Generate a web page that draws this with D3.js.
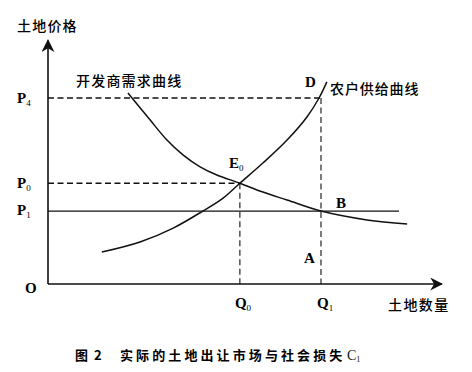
<!DOCTYPE html>
<html><head><meta charset="utf-8">
<script src="https://cdn.jsdelivr.net/npm/d3@7"></script>
<style>
html,body{margin:0;padding:0;background:#fff;}
svg{display:block;}
.cn{font-family:"Noto Sans CJK SC","Noto Sans CJK JP",sans-serif;fill:#000;}
.lt{font-family:"Liberation Serif","DejaVu Serif",serif;font-weight:bold;fill:#000;}
</style></head>
<body>
<svg id="c" width="472" height="372"></svg>
<script>
// ---- data ----
const demandX = [2.05, 2.62, 3.05, 3.46, 3.90, 4.33, 4.92, 5.51, 6.13, 7.0, 8.18, 9.21];
const demandY = [7.96, 6.83, 6.0, 5.38, 4.88, 4.54, 4.2, 3.83, 3.5, 3.04, 2.67, 2.5];
const supplyX = [1.38, 2.36, 3.21, 3.97, 4.49, 4.92, 5.51, 6.13, 6.64, 6.95, 7.15];
const supplyY = [1.33, 1.75, 2.33, 3.04, 3.58, 4.2, 5.04, 6.0, 6.96, 7.75, 8.42];
const priceLevels = {P4: 7.75, P0: 4.2, P1: 3.04};
const quantityLevels = {Q0: 4.92, Q1: 7.0};
const p1LineEnd = 9.0;
const axisMaxX = 10.1, axisMaxY = 10.15;

const svg = d3.select("#c");
const x = d3.scaleLinear().domain([0, 10]).range([48, 438]);
const y = d3.scaleLinear().domain([0, 10]).range([284, 44]);

// arrow marker
const defs = svg.append("defs");
defs.append("marker").attr("id","arr").attr("viewBox","0 0 10 10")
  .attr("refX",9).attr("refY",5).attr("markerWidth",13).attr("markerHeight",13)
  .attr("markerUnits","userSpaceOnUse").attr("orient","auto")
  .append("path").attr("d","M0,0 L10,5 L0,10 L3,5 Z").attr("fill","#111");

// axes
svg.append("line").attr("x1",x(0)).attr("y1",y(0)).attr("x2",x(0)).attr("y2",y(axisMaxY))
  .attr("stroke","#111").attr("stroke-width",1.6).attr("marker-end","url(#arr)");
svg.append("line").attr("x1",x(0)).attr("y1",y(0)).attr("x2",x(axisMaxX)).attr("y2",y(0))
  .attr("stroke","#111").attr("stroke-width",1.6).attr("marker-end","url(#arr)");

// dashed guide lines
const dash = (x1,y1,x2,y2,w) => svg.append("line")
  .attr("x1",x(x1)).attr("y1",y(y1)).attr("x2",x(x2)).attr("y2",y(y2))
  .attr("stroke","#111").attr("stroke-width",w).attr("stroke-dasharray","6,3.5");
dash(0, priceLevels.P4, quantityLevels.Q1, priceLevels.P4, 1.6);
dash(0, priceLevels.P0, quantityLevels.Q0, priceLevels.P0, 1.6);
dash(quantityLevels.Q0, priceLevels.P0, quantityLevels.Q0, 0, 1.1);
dash(quantityLevels.Q1, priceLevels.P4, quantityLevels.Q1, 0, 1.1);

// P1 solid horizontal
svg.append("line").attr("x1",x(0)).attr("y1",y(priceLevels.P1)).attr("x2",x(p1LineEnd)).attr("y2",y(priceLevels.P1))
  .attr("stroke","#111").attr("stroke-width",1.2);

// curves
const line = d3.line().x(d=>x(d[0])).y(d=>y(d[1])).curve(d3.curveBasis);
const lineS = d3.line().x(d=>x(d[0])).y(d=>y(d[1])).curve(d3.curveCatmullRom.alpha(0.5));
svg.append("path").datum(demandX.map((v,i)=>[v,demandY[i]])).attr("d",lineS)
  .attr("fill","none").attr("stroke","#111").attr("stroke-width",1.5);
svg.append("path").datum(supplyX.map((v,i)=>[v,supplyY[i]])).attr("d",lineS)
  .attr("fill","none").attr("stroke","#111").attr("stroke-width",1.5);

// text helpers
function cn(t, px, py, size, ls, weight){
  return svg.append("text").attr("class","cn").attr("x",px).attr("y",py)
    .attr("font-size",size).attr("letter-spacing",ls||0).attr("font-weight",weight||400).text(t);
}
function lt(t, sub, px, py, size){
  const el = svg.append("text").attr("class","lt").attr("x",px).attr("y",py).attr("font-size",size||15).text(t);
  if(sub!==null && sub!==undefined){
    el.append("tspan").attr("font-size",9).attr("font-weight","normal").attr("dy",3).text(sub);
  }
  return el;
}

cn("土地价格", 17, 31, 14, 1.2, 500);
cn("开发商需求曲线", 76, 86, 14, 1.2, 500);
cn("农户供给曲线", 330, 94, 14, 0.9, 500);
cn("土地数量", 388, 310, 14, 1.4, 500);

lt("P","4", 17, y(priceLevels.P4)+5);
lt("P","0", 17, y(priceLevels.P0)+5);
lt("P","1", 17, y(priceLevels.P1)+4);
lt("O",null, 25, 293);
lt("D",null, 305, 87);
lt("E","0", 229, 168);
lt("B",null, 336, 208);
lt("A",null, 304, 263);
lt("Q","0", x(quantityLevels.Q0)-5, 308);
lt("Q","1", x(quantityLevels.Q1)-4, 308);

// caption
cn("图 2", 75, 360, 13, 1.5, 700);
cn("实际的土地出让市场与社会损失", 120, 360, 13, 3.1, 700);
svg.append("text").attr("x",347).attr("y",360).attr("font-family","Liberation Serif,serif")
  .attr("font-size",14).attr("fill","#111").text("C")
  .append("tspan").attr("font-size",8).attr("dy",2).text("1");
</script>
</body></html>
